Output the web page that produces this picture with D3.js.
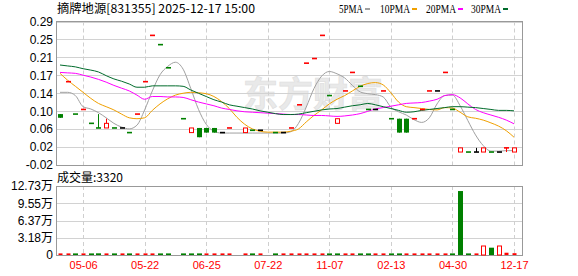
<!DOCTYPE html>
<html>
<head>
<meta charset="utf-8">
<script src="https://cdn.jsdelivr.net/npm/d3@7"></script>
<style>
  body { margin: 0; background: #fff; }
  svg { display: block; }
</style>
</head>
<body>
<div class="main"></div>
<script>
const width = 578;
const height = 276;

// daily bars, oldest first (null = no trade that day)
const open  = [0.09,0.16,0.09,0.10,0.07,0.06,0.06,0.06,0.06,0.05,0.09,0.16,0.26,0.24,0.19,null,0.08,0.05,0.06,0.06,0.06,0.05,0.06,null,0.05,0.055,0.055,null,0.05,0.05,0.06,0.11,0.20,0.21,0.26,0.13,0.07,0.14,0.18,0.15,0.10,0.10,0.14,0.08,0.08,0.08,0.08,0.10,0.14,0.14,0.18,0.10,0.008,0.008,0.008,0.008,0.008,0.008,0.017,0.008];
const high  = [0.09,0.16,0.09,0.10,0.07,0.09,0.08,0.06,0.06,0.05,0.09,0.16,0.26,0.24,0.19,null,0.08,0.06,0.06,0.06,0.06,0.05,0.06,null,0.06,0.055,0.055,null,0.05,0.05,0.06,0.11,0.20,0.21,0.26,0.13,0.08,0.14,0.18,0.15,0.10,0.10,0.14,0.08,0.08,0.08,0.08,0.10,0.14,0.14,0.18,0.10,0.017,0.008,0.017,0.017,0.008,0.008,0.017,0.017];
const low   = [0.082,0.16,0.09,0.10,0.07,0.06,0.06,0.06,0.06,0.05,0.09,0.16,0.26,0.24,0.19,null,0.08,0.05,0.04,0.05,0.05,0.05,0.06,null,0.05,0.055,0.055,null,0.05,0.05,0.06,0.11,0.20,0.21,0.26,0.13,0.07,0.14,0.18,0.15,0.10,0.10,0.14,0.08,0.05,0.05,0.08,0.10,0.14,0.14,0.18,0.10,0.008,0.008,0.008,0.008,0.008,0.008,0.008,0.008];
const close = [0.082,0.16,0.09,0.10,0.07,0.06,0.07,0.06,0.06,0.05,0.09,0.16,0.26,0.24,0.19,null,0.08,0.06,0.04,0.05,0.05,0.05,0.06,null,0.06,0.055,0.055,null,0.05,0.05,0.06,0.11,0.20,0.21,0.26,0.13,0.08,0.14,0.18,0.15,0.10,0.10,0.14,0.08,0.05,0.05,0.08,0.10,0.14,0.14,0.18,0.10,0.017,0.008,0.008,0.017,0.008,0.008,0.017,0.017];
const volume = [2100,1500,1200,2600,900,3100,2400,1100,800,1600,2200,1300,900,1000,1400,null,1200,1800,2500,2000,1700,900,1100,null,1900,1000,800,null,1200,700,1300,1500,1100,1000,1600,1200,1900,1400,1100,1300,1500,900,1000,1200,2800,2600,1000,1300,1100,800,1200,1400,118000,1500,1800,16600,13500,16600,4200,3320];

// moving averages of close as plotted
const ma5  = [0.137,0.137,0.130,0.106,0.101,0.093,0.082,0.070,0.062,0.058,0.066,0.099,0.140,0.175,0.193,0.202,0.187,0.145,0.100,0.068,0.053,0.049,0.049,0.049,0.049,0.049,0.049,0.049,0.049,0.049,0.052,0.070,0.105,0.145,0.172,0.182,0.177,0.168,0.152,0.138,0.134,0.132,0.127,0.105,0.095,0.088,0.078,0.072,0.082,0.112,0.130,0.131,0.108,0.076,0.045,0.022,0.010,0.010,0.011,0.011];
const ma10 = [0.178,0.163,0.150,0.137,0.124,0.113,0.106,0.099,0.090,0.082,0.080,0.082,0.098,0.112,0.123,0.131,0.135,0.137,0.136,0.134,0.128,0.117,0.102,0.083,0.068,0.058,0.053,0.051,0.051,0.051,0.053,0.058,0.073,0.087,0.099,0.112,0.122,0.130,0.140,0.150,0.156,0.158,0.153,0.136,0.116,0.106,0.104,0.102,0.100,0.099,0.104,0.103,0.094,0.084,0.081,0.077,0.071,0.064,0.054,0.040];
const ma20 = [0.180,0.179,0.178,0.174,0.170,0.165,0.159,0.152,0.146,0.140,0.131,0.122,0.128,0.128,0.127,0.127,0.126,0.121,0.116,0.112,0.108,0.103,0.100,0.097,0.095,0.094,0.093,0.092,0.091,0.090,0.089,0.089,0.088,0.087,0.087,0.086,0.085,0.086,0.088,0.091,0.096,0.101,0.104,0.107,0.110,0.113,0.114,0.115,0.118,0.122,0.130,0.132,0.125,0.112,0.100,0.093,0.088,0.083,0.077,0.069];
const ma30 = [0.196,0.194,0.192,0.188,0.185,0.181,0.173,0.166,0.161,0.155,0.148,0.148,0.151,0.151,0.151,0.151,0.150,0.142,0.135,0.128,0.121,0.116,0.110,0.107,0.104,0.101,0.097,0.094,0.091,0.089,0.089,0.090,0.093,0.096,0.099,0.101,0.102,0.105,0.108,0.110,0.113,0.110,0.106,0.102,0.098,0.094,0.095,0.098,0.100,0.102,0.104,0.106,0.106,0.105,0.104,0.102,0.100,0.098,0.098,0.097];

const maNames = ["5PMA", "10PMA", "20PMA", "30PMA"];
const maColors = ["#a0a0a0", "#f0a000", "#ff00ff", "#006b2b"];

const xTickIndex = [3, 11, 19, 27, 35, 43, 51, 59];
const xTickLabels = ["05-06", "05-22", "06-25", "07-22", "11-07", "02-13", "04-30", "12-17"];
const priceTickLabels = ["-0.02", "0.02", "0.06", "0.10", "0.14", "0.17", "0.21", "0.25", "0.29"];
const volTickLabels = ["0", "3.18万", "6.37万", "9.55万", "12.73万"];

const title = "摘牌地源[831355] 2025-12-17 15:00";
const volTitle = "成交量:3320";

const red = "#ff0000", green = "#008000";
const left = 56, right = 522;
const mainTop = 21.5, mainBottom = 165;
const volTop = 186, volBottom = 255;

const n = close.length;
const x = d3.scaleLinear().domain([0, n - 1]).range([60, 514]);
const y = d3.scaleLinear().domain([-0.02, 0.29]).range([mainBottom, mainTop]);
const yv = d3.scaleLinear().domain([0, 127300]).range([volBottom, volTop]);

const priceTicks = d3.range(priceTickLabels.length).map(k => -0.02 + k * 0.31 / (priceTickLabels.length - 1));
const volTicks = d3.range(volTickLabels.length).map(k => k * 127300 / (volTickLabels.length - 1));

const svg = d3.select(".main").append("svg")
  .attr("width", width)
  .attr("height", height)
  .style("font-family", "'Liberation Sans', Arial, 'Noto Sans CJK SC', sans-serif");

// build bar records, remembering the previous close for colouring
let prev = null;
const bars = d3.range(n).map(i => {
  const d = { i, o: open[i], h: high[i], l: low[i], c: close[i], v: volume[i], prev };
  if (close[i] != null) prev = close[i];
  return d;
});

function candleColor(d) {
  if (d.c > d.o) return red;
  if (d.c < d.o) return green;
  if (d.prev == null || d.c < d.prev) return green;
  if (d.c > d.prev) return red;
  return "#000";
}
function volColor(d) {
  return (d.prev != null && d.c < d.prev) ? green : red;
}

// ---------- watermark
svg.append("text")
  .attr("x", 243).attr("y", 107)
  .attr("font-size", 35).attr("font-weight", "bold")
  .attr("font-family", "'Noto Sans CJK SC', sans-serif")
  .attr("fill", "#e9e9e9")
  .attr("stroke", "#dedede").attr("stroke-width", 0.6)
  .text("东方财富");

// ---------- grids
function grid(g, ticks, scale, top, bottom) {
  g.selectAll("line.h").data(ticks).join("line")
    .attr("class", "h")
    .attr("x1", left).attr("x2", right)
    .attr("y1", d => Math.round(scale(d)) + 0.5)
    .attr("y2", d => Math.round(scale(d)) + 0.5)
    .attr("stroke", "#d2d2d2");
  g.selectAll("line.v").data(xTickIndex).join("line")
    .attr("class", "v")
    .attr("x1", d => Math.round(x(d)) + 0.5)
    .attr("x2", d => Math.round(x(d)) + 0.5)
    .attr("y1", top).attr("y2", bottom)
    .attr("stroke", "#cfcfcf")
    .attr("stroke-dasharray", "4,3");
}
grid(svg.append("g"), priceTicks, y, mainTop, mainBottom);
grid(svg.append("g"), volTicks, yv, volTop, volBottom);

// frames
svg.append("rect")
  .attr("x", left + 0.5).attr("y", Math.round(mainTop) - 0.5)
  .attr("width", right - left).attr("height", Math.round(mainBottom - mainTop))
  .attr("fill", "none").attr("stroke", "#999");
svg.append("rect")
  .attr("x", left + 0.5).attr("y", volTop + 0.5)
  .attr("width", right - left).attr("height", volBottom - volTop)
  .attr("fill", "none").attr("stroke", "#999");

// ---------- axes
const yAxis = d3.axisLeft(y).tickValues(priceTicks)
  .tickFormat((d, k) => priceTickLabels[k]).tickSize(0).tickPadding(3);
svg.append("g").attr("transform", `translate(${left},0)`).call(yAxis)
  .call(g => g.select(".domain").remove())
  .selectAll("text").attr("font-size", 12).attr("fill", "#000")
  .attr("font-family", "'Liberation Sans', Arial, sans-serif");

const vAxis = d3.axisLeft(yv).tickValues(volTicks)
  .tickFormat((d, k) => volTickLabels[k]).tickSize(0).tickPadding(3);
svg.append("g").attr("transform", `translate(${left},0)`).call(vAxis)
  .call(g => g.select(".domain").remove())
  .selectAll("text").attr("font-size", 12).attr("fill", "#000")
  .attr("font-family", "'Liberation Sans', Arial, 'Noto Sans CJK SC', sans-serif");

const xAxis = d3.axisBottom(x).tickValues(xTickIndex)
  .tickFormat((d, k) => xTickLabels[k]).tickSize(0).tickPadding(6);
svg.append("g").attr("transform", `translate(0,${volBottom})`).call(xAxis)
  .call(g => g.select(".domain").remove())
  .selectAll("text").attr("font-size", 11).attr("fill", red)
  .attr("font-family", "'Liberation Sans', Arial, sans-serif");

// ---------- moving averages
const maSeries = [ma5, ma10, ma20, ma30];
const line = d3.line()
  .x((d, i) => x(i))
  .y(d => y(d))
  .curve(d3.curveMonotoneX);
svg.append("g").selectAll("path").data(maSeries).join("path")
  .attr("d", line)
  .attr("fill", "none")
  .attr("stroke", (d, k) => maColors[k])
  .attr("stroke-width", 1);

// ---------- candles
const traded = bars.filter(d => d.c != null);
const cg = svg.append("g").selectAll("g").data(traded).join("g");
const cx = d => Math.round(x(d.i));

cg.filter(d => d.h > d.l).append("line")
  .attr("x1", d => cx(d) + 0.5).attr("x2", d => cx(d) + 0.5)
  .attr("y1", d => y(d.h)).attr("y2", d => y(d.l))
  .attr("stroke", candleColor);

cg.filter(d => d.c > d.o).append("rect")
  .attr("x", d => cx(d) - 1.5)
  .attr("y", d => y(d.c))
  .attr("width", 4)
  .attr("height", d => y(d.o) - y(d.c))
  .attr("fill", "#fff").attr("stroke", red);

cg.filter(d => d.c < d.o).append("rect")
  .attr("x", d => cx(d) - 2)
  .attr("y", d => y(d.o))
  .attr("width", 5)
  .attr("height", d => y(d.c) - y(d.o))
  .attr("fill", green);

cg.filter(d => d.c === d.o).append("rect")
  .attr("x", d => cx(d) - 2)
  .attr("y", d => y(d.c) - 0.8)
  .attr("width", 5)
  .attr("height", 1.6)
  .attr("fill", candleColor);

// ---------- volume
svg.append("g").selectAll("rect").data(traded).join("rect")
  .attr("x", d => volColor(d) === red ? cx(d) - 1.5 : cx(d) - 2)
  .attr("width", d => volColor(d) === red ? 4 : 5)
  .attr("y", d => Math.min(yv(d.v), volBottom - 1.6))
  .attr("height", d => Math.max(volBottom - yv(d.v), 1.6))
  .attr("fill", d => volColor(d) === red && volBottom - yv(d.v) > 4 ? "#fff" : volColor(d))
  .attr("stroke", d => volColor(d) === red && volBottom - yv(d.v) > 4 ? red : "none");

// ---------- titles and legend
svg.append("text")
  .attr("x", 57).attr("y", 13)
  .attr("font-size", 12)
  .attr("font-family", "'Noto Sans CJK SC', sans-serif")
  .attr("textLength", 198).attr("lengthAdjust", "spacingAndGlyphs")
  .text(title);

svg.append("text")
  .attr("x", 57).attr("y", 182)
  .attr("font-size", 12)
  .attr("font-family", "'Noto Sans CJK SC', sans-serif")
  .attr("textLength", 66).attr("lengthAdjust", "spacingAndGlyphs")
  .text(volTitle);

const legendX = [339, 380, 426, 471];
const leg = svg.append("g").selectAll("g").data(maNames).join("g")
  .attr("transform", (d, k) => `translate(${legendX[k]},0)`);
leg.append("text")
  .attr("y", 13)
  .attr("font-size", 12)
  .attr("font-family", "'Liberation Serif', 'Times New Roman', serif")
  .attr("textLength", d => d.length * 6).attr("lengthAdjust", "spacingAndGlyphs")
  .text(d => d);
leg.append("rect")
  .attr("x", d => d.length * 6 + 2).attr("y", 8)
  .attr("width", 5).attr("height", 2)
  .attr("fill", (d, k) => maColors[k]);
</script>
</body>
</html>
